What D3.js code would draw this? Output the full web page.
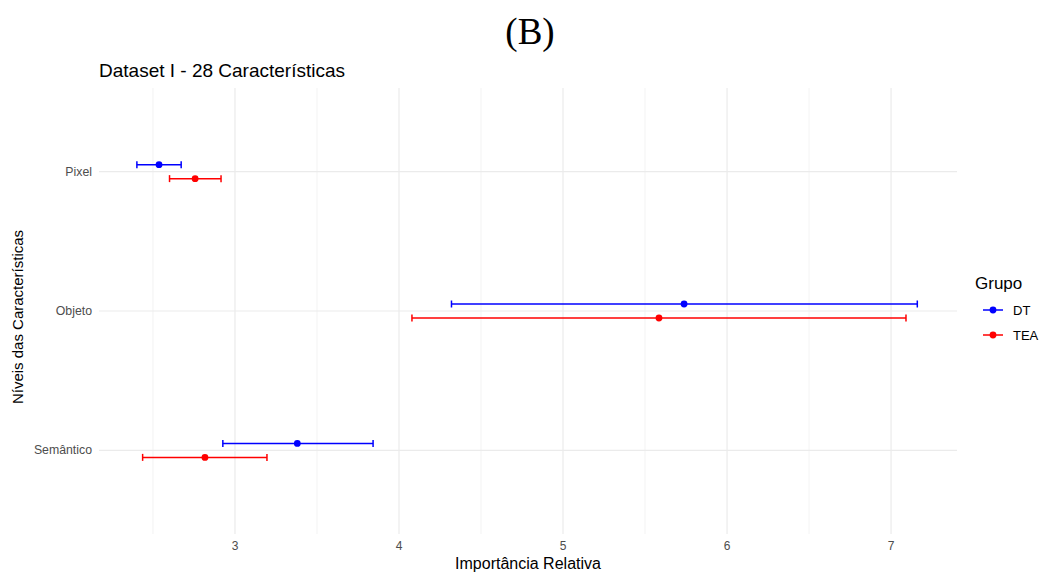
<!DOCTYPE html>
<html>
<head>
<meta charset="utf-8">
<script src="https://cdn.jsdelivr.net/npm/d3@7"></script>
<style>
  body { margin: 0; background: #fff; }
  svg { display: block; }
</style>
</head>
<body>
<script>
// niveis, grupos e estimativas (media com intervalo)
var niveis = ["Pixel", "Objeto", "Semântico"];
var grupos = ["DT", "TEA"];
var cores = ["#0000FF", "#FF0000"];
var media = { DT: [2.537, 5.738, 3.38], TEA: [2.757, 5.585, 2.817] };
var inferior = { DT: [2.402, 4.32, 2.926], TEA: [2.601, 4.079, 2.437] };
var superior = { DT: [2.672, 7.16, 3.842], TEA: [2.915, 7.091, 3.195] };
var xTicks = [3, 4, 5, 6, 7];
var xMinor = [2.5, 3.5, 4.5, 5.5, 6.5];

var W = 1042, H = 574;
var panel = { left: 99, right: 957, top: 88, bottom: 534 };

var svg = d3.select("body").append("svg").attr("width", W).attr("height", H);

var x = d3.scaleLinear().domain([2.171, 7.402]).range([panel.left, panel.right]);
// eixo discreto com expansao de 0.6 em cada lado (estilo ggplot)
var y = d3.scaleLinear().domain([0.4, 3.6]).range([panel.top, panel.bottom]);
var yPos = function(i) { return y(i + 1); };
var dodge = { DT: -7, TEA: 7 };

var grid = svg.append("g");
grid.selectAll(".minor").data(xMinor).enter().append("line")
  .attr("x1", d => x(d)).attr("x2", d => x(d))
  .attr("y1", panel.top).attr("y2", panel.bottom)
  .attr("stroke", "#EBEBEB").attr("stroke-width", 0.6);
grid.selectAll(".major").data(xTicks).enter().append("line")
  .attr("x1", d => x(d)).attr("x2", d => x(d))
  .attr("y1", panel.top).attr("y2", panel.bottom)
  .attr("stroke", "#EBEBEB").attr("stroke-width", 1.2);
grid.selectAll(".hmajor").data(niveis).enter().append("line")
  .attr("x1", panel.left).attr("x2", panel.right)
  .attr("y1", (d, i) => yPos(i)).attr("y2", (d, i) => yPos(i))
  .attr("stroke", "#EBEBEB").attr("stroke-width", 1.2);

// barras de erro e pontos
grupos.forEach(function(g, gi) {
  var cor = cores[gi];
  var layer = svg.append("g");
  niveis.forEach(function(n, i) {
    var yy = yPos(i) + dodge[g];
    var x0 = x(inferior[g][i]), x1 = x(superior[g][i]);
    layer.append("line").attr("x1", x0).attr("x2", x1).attr("y1", yy).attr("y2", yy)
      .attr("stroke", cor).attr("stroke-width", 1.5);
    [x0, x1].forEach(function(xc) {
      layer.append("line").attr("x1", xc).attr("x2", xc).attr("y1", yy - 3.5).attr("y2", yy + 3.5)
        .attr("stroke", cor).attr("stroke-width", 1.5);
    });
    layer.append("circle").attr("cx", x(media[g][i])).attr("cy", yy).attr("r", 3.4).attr("fill", cor);
  });
});

var font = "Liberation Sans, Arial, sans-serif";

// rotulos dos eixos
svg.append("g").selectAll("text").data(xTicks).enter().append("text")
  .attr("x", d => x(d)).attr("y", 550).attr("text-anchor", "middle")
  .attr("font-family", font).attr("font-size", 12).attr("fill", "#4D4D4D")
  .text(d => d);
svg.append("g").selectAll("text").data(niveis).enter().append("text")
  .attr("x", 92).attr("y", (d, i) => yPos(i) + 4).attr("text-anchor", "end")
  .attr("font-family", font).attr("font-size", 12.3).attr("fill", "#4D4D4D")
  .text(d => d);

svg.append("text").attr("x", (panel.left + panel.right) / 2).attr("y", 569)
  .attr("text-anchor", "middle").attr("font-family", font).attr("font-size", 16)
  .text("Importância Relativa");
svg.append("text").attr("transform", "translate(23," + ((panel.top + panel.bottom) / 2 + 6) + ") rotate(-90)")
  .attr("text-anchor", "middle").attr("font-family", font).attr("font-size", 15)
  .text("Níveis das Características");

svg.append("text").attr("x", panel.left).attr("y", 77)
  .attr("font-family", font).attr("font-size", 19)
  .text("Dataset I - 28 Características");

svg.append("text").attr("x", 530).attr("y", 44).attr("text-anchor", "middle")
  .attr("font-family", "Liberation Serif, Times New Roman, serif").attr("font-size", 37)
  .text("(B)");

// legenda
var leg = svg.append("g");
leg.append("text").attr("x", 975).attr("y", 289).attr("font-family", font).attr("font-size", 17).text("Grupo");
grupos.forEach(function(g, gi) {
  var yy = 310 + gi * 25;
  leg.append("line").attr("x1", 983).attr("x2", 1003).attr("y1", yy).attr("y2", yy)
    .attr("stroke", cores[gi]).attr("stroke-width", 1.5);
  leg.append("circle").attr("cx", 993).attr("cy", yy).attr("r", 3.4).attr("fill", cores[gi]);
  leg.append("text").attr("x", 1013).attr("y", yy + 4.5).attr("font-family", font).attr("font-size", 13).text(g);
});
</script>
</body>
</html>
